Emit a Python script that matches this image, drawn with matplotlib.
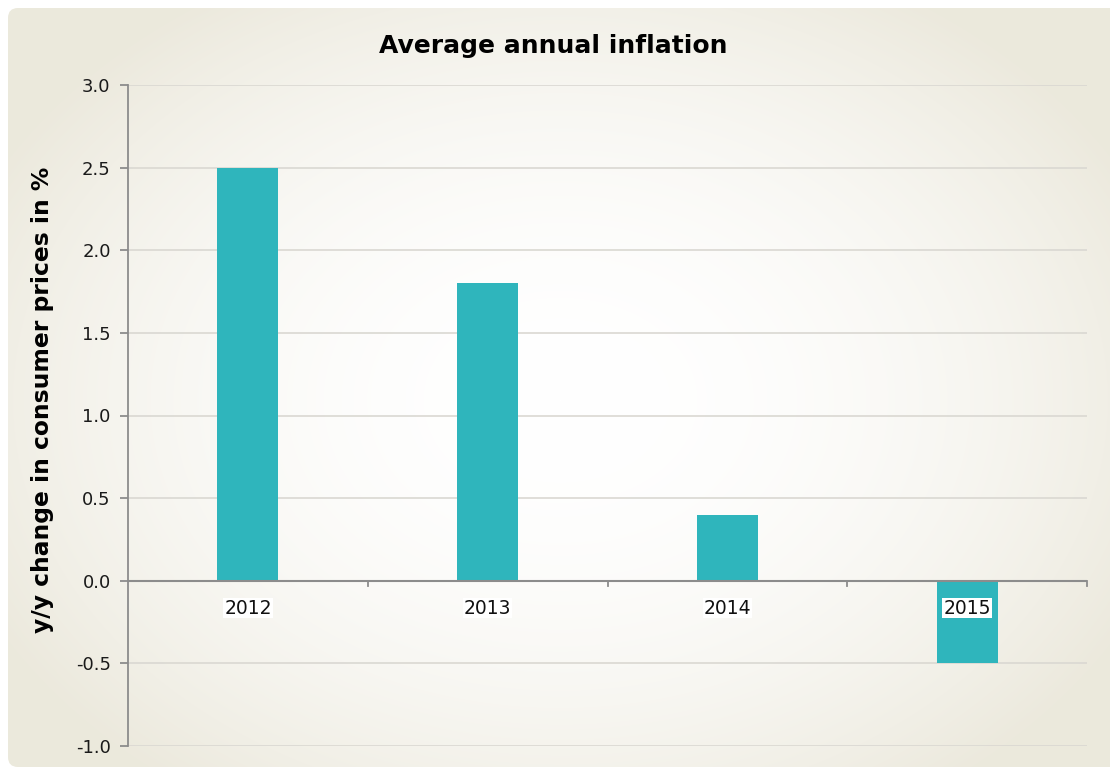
import numpy as np
import matplotlib
matplotlib.use("Agg")
import matplotlib.pyplot as plt
from matplotlib.patches import FancyBboxPatch

years = ["2012", "2013", "2014", "2015"]
inflation = [2.5, 1.8, 0.4, -0.5]
y_ticks = [-1.0, -0.5, 0.0, 0.5, 1.0, 1.5, 2.0, 2.5, 3.0]

W, H = 1110, 771
fig = plt.figure(figsize=(W / 100, H / 100), dpi=100)
fig.patch.set_facecolor("white")

# Radial-gradient backdrop panel
bg = fig.add_axes([0, 0, 1, 1], zorder=0)
bg.set_xlim(0, W)
bg.set_ylim(H, 0)
bg.axis("off")
yy, xx = np.mgrid[0:H, 0:W]
cx, cy = 560, 400
r = np.sqrt(((xx - cx) / 640.0) ** 2 + ((yy - cy) / 480.0) ** 2)
t = np.clip(r, 0, 1) ** 2.0
inner = np.array([1.0, 1.0, 1.0])
outer = np.array([0.925, 0.914, 0.866])
img = inner[None, None, :] * (1 - t[..., None]) + outer[None, None, :] * t[..., None]
im = bg.imshow(img, extent=(0, W, H, 0), interpolation="bilinear")
clip = FancyBboxPatch((8, 8), W + 20, H - 12, boxstyle="round,pad=0,rounding_size=10",
                      transform=bg.transData, facecolor="none", edgecolor="none")
bg.add_patch(clip)
im.set_clip_path(clip)

# Plot area
left, right, top, bottom = 128, 1087, 85, 746
ax = fig.add_axes([left / W, 1 - bottom / H, (right - left) / W, (bottom - top) / H], zorder=1)
ax.patch.set_alpha(0)

x = np.arange(len(years))
ax.bar(x, inflation, width=0.255, color="#2FB5BC", zorder=3)
ax.set_xlim(-0.5, len(years) - 0.5)
ax.set_ylim(-1.0, 3.0)
ax.set_yticks(y_ticks)
ax.set_yticklabels([f"{v:.1f}" for v in y_ticks], fontsize=13, color="#1a1a1a")
ax.yaxis.grid(True, color="#DAD8D2", linewidth=1.2, zorder=0)
ax.set_axisbelow(True)

for s in ["top", "right", "bottom"]:
    ax.spines[s].set_visible(False)
ax.spines["left"].set_color("#8C8C8C")
ax.spines["left"].set_linewidth(1.3)
ax.tick_params(axis="y", length=6, color="#8C8C8C", width=1.3, pad=6.5)

# Category axis drawn along y = 0
ax.axhline(0, color="#8C8C8C", linewidth=1.5, zorder=4)
ax.set_xticks([])
for b in np.arange(0.5, len(years), 1.0):
    ax.plot([b, b], [0, -0.03], color="#8C8C8C", linewidth=1.3, zorder=4, clip_on=False)
for xi, lab in zip(x, years):
    ax.annotate(lab, (xi, 0), xytext=(0, -26.5), textcoords="offset points",
                ha="center", va="bottom", fontsize=13.5, color="#111111", zorder=5,
                bbox=dict(boxstyle="square,pad=0.05", facecolor="white", edgecolor="none"))

fig.text(43 / W, 1 - 400 / H, "y/y change in consumer prices in %", rotation=90,
         ha="center", va="center", fontsize=16.8, fontweight="bold")
fig.text(553 / W, 1 - 46 / H, "Average annual inflation", ha="center", va="center",
         fontsize=18, fontweight="bold")

fig.savefig("out.png", dpi=100, facecolor=fig.get_facecolor())
